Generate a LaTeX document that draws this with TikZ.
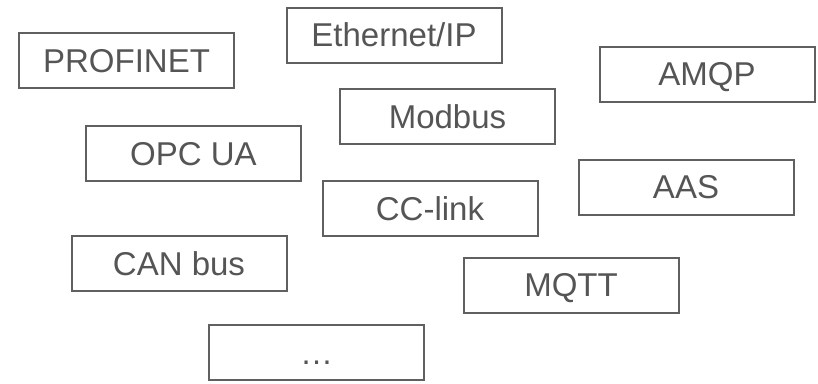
\documentclass[tikz,border=0pt]{standalone}
\usepackage{fontspec}
\setmainfont{Liberation Sans}
\usetikzlibrary{shapes}
\definecolor{linegray}{HTML}{606060}
\definecolor{textgray}{HTML}{555555}

\begin{document}
\begin{tikzpicture}[x=1pt, y=-1pt,
  proto/.style={draw=linegray, line width=2pt, rectangle, minimum width=215pt, minimum height=55pt,
    text=textgray, font=\fontsize{33}{40}\selectfont, text height=23.6pt, text depth=0pt, inner sep=0pt}]
\useasboundingbox (0, 0) rectangle (818, 383);
\node[proto] (n1) at (126.5, 60.5) {PROFINET};
\node[proto] (n2) at (394, 35) {Ethernet/IP};
\node[proto] (n3) at (707, 74) {AMQP};
\node[proto] (n4) at (447.5, 116.5) {Modbus};
\node[proto] (n5) at (193.5, 153.5) {OPC UA};
\node[proto] (n6) at (686, 187) {AAS};
\node[proto] (n7) at (430, 208.5) {CC-link};
\node[proto] (n8) at (179, 263.5) {CAN bus};
\node[proto] (n9) at (571, 285) {MQTT};
\node[proto] (n10) at (316.5, 352.5) {…};
\end{tikzpicture}
\end{document}
